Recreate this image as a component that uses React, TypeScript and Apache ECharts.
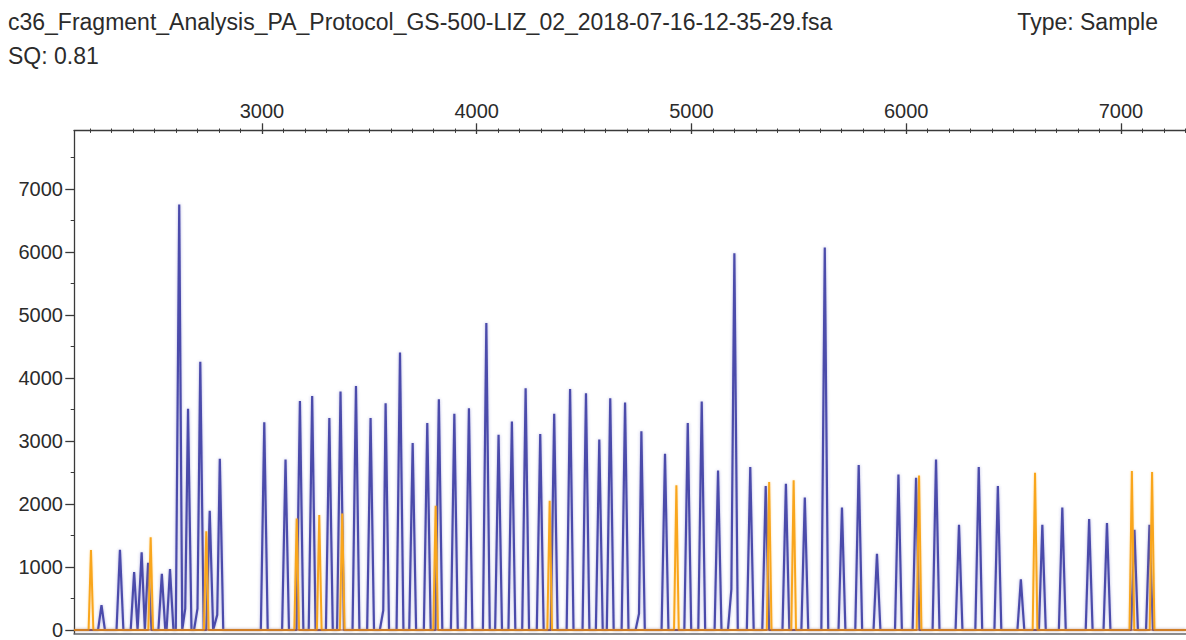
import React, { useEffect, useRef } from "react";
import * as echarts from "echarts";

// ---- texts ----
const fileTitle = "c36_Fragment_Analysis_PA_Protocol_GS-500-LIZ_02_2018-07-16-12-35-29.fsa";
const sqLabel = "SQ: 0.81";
const typeLabel = "Type: Sample";

// ---- axes ----
const xMin = 2125;
const xMax = 7303;
const yMin = -58;
const yMax = 7924;
const xMajorTicks = [3000, 4000, 5000, 6000, 7000];
const yMajorTicks = [0, 1000, 2000, 3000, 4000, 5000, 6000, 7000];
const yMinorTicks = [500, 1500, 2500, 3500, 4500, 5500, 6500, 7500];
const xMinorTicks: number[] = [];
for (let v = 2200; v <= 7300; v += 100) if (v % 1000 !== 0) xMinorTicks.push(v);

// ---- blue dye peaks (scan position, RFU) ----
const bluePeakX = [
  2253, 2339, 2405, 2440, 2470, 2534, 2572, 2615, 2643, 2656, 2700, 2713, 2757, 2792, 2804,
  3011, 3110, 3177, 3234, 3314, 3366, 3438, 3506, 3565, 3576, 3643, 3702, 3770, 3824, 3896,
  3964, 4045, 4102, 4164, 4228, 4296, 4361, 4435, 4509, 4571, 4622, 4691, 4756, 4767, 4877,
  4983, 5048, 5124, 5186, 5200, 5274, 5346, 5440, 5528, 5621, 5701, 5779, 5864, 5964, 6046,
  6139, 6246, 6338, 6427, 6534, 6634, 6727, 6852, 6935, 7063, 7133,
];
const bluePeakY = [
  394, 1271, 919, 1234, 1066, 893, 966, 6752, 340, 3510, 340, 4257, 1892, 240, 2716,
  3295, 2706, 3636, 3715, 3363, 3784, 3872, 3363, 310, 3600, 4403, 2969, 3284, 3662, 3431,
  3520, 4871, 3100, 3310, 3836, 3111, 3431, 3825, 3757, 3021, 3678, 3610, 260, 3153, 2795,
  3284, 3626, 2532, 646, 5980, 2586, 2286, 2322, 2102, 6070, 1944, 2617, 1208, 2469, 2417,
  2706, 1671, 2586, 2286, 804, 1671, 1944, 1760, 1697, 1592, 1671,
];

// ---- orange dye (size standard) peaks ----
const orangePeakX = [2204, 2482, 2741, 3162, 3267, 3374, 3809, 4340, 4930, 5362, 5476, 6060, 6600, 7051, 7145];
const orangePeakY = [1271, 1471, 1565, 1770, 1823, 1849, 1970, 2049, 2296, 2349, 2375, 2453, 2496, 2522, 2507];

// ---- red channel baseline ----
const redBaselineX = [xMin, xMax];
const redBaselineY = [0, 0];

// Turn a list of peak apexes into a line: each apex gets a foot on the baseline
// on each side; close neighbours share one foot, very close ones (shoulders) join directly.
function peakLine(xs: number[], ys: number[], hw: number): number[][] {
  const order = xs.map((_, i) => i).sort((a, b) => xs[a] - xs[b]);
  const pts: number[][] = [[xMin, 0]];
  for (let k = 0; k < order.length; k++) {
    const i = order[k];
    const x = xs[i];
    const prev = k > 0 ? xs[order[k - 1]] : -Infinity;
    const next = k < order.length - 1 ? xs[order[k + 1]] : Infinity;
    const gapL = x - prev;
    if (gapL >= 2 * hw) pts.push([x - hw, 0]);
    else if (gapL >= hw) pts.push([(x + prev) / 2, 0]);
    pts.push([x, ys[i]]);
    if (next - x >= 2 * hw) pts.push([x + hw, 0]);
  }
  pts.push([xMax, 0]);
  return pts;
}

const FONT = "'Liberation Sans', Arial, Helvetica, sans-serif";
const TEXT_COLOR = "#2b2b2b";
const AXIS_COLOR = "#3a3a3a";

export default function App() {
  const ref = useRef<HTMLDivElement>(null);
  useEffect(() => {
    if (!ref.current) return;
    const chart = echarts.init(ref.current, undefined, { renderer: "svg" });
    const xCommon = {
      type: "value" as const,
      min: xMin,
      max: xMax,
      gridIndex: 0,
      splitLine: { show: false },
    };
    const yCommon = {
      type: "value" as const,
      min: yMin,
      max: yMax,
      gridIndex: 0,
      splitLine: { show: false },
    };
    const headStyle = { fontFamily: FONT, fontSize: 23, color: TEXT_COLOR, fontWeight: "normal" as const };
    const tickStyle = { fontFamily: FONT, fontSize: 20, color: TEXT_COLOR };
    const plain = (v: number) => String(v);
    chart.setOption({
      animation: false,
      backgroundColor: "#ffffff",
      title: [
        { text: fileTitle, left: 8, top: 10, padding: 0, textStyle: headStyle },
        { text: sqLabel, left: 8, top: 44, padding: 0, textStyle: headStyle },
        { text: typeLabel, right: 28, top: 10, padding: 0, textStyle: headStyle },
      ],
      grid: { left: 74, right: 0, top: 130.7, bottom: 3, containLabel: false },
      xAxis: [
        {
          ...xCommon,
          position: "top",
          axisLine: { show: true, onZero: false, lineStyle: { color: AXIS_COLOR, width: 1.3 } },
          axisTick: { show: false },
          axisLabel: { customValues: xMajorTicks, margin: 10, formatter: plain, ...tickStyle },
        },
        {
          ...xCommon,
          position: "top",
          offset: -3.3,
          axisLine: { show: false, onZero: false },
          axisTick: { show: true, customValues: xMajorTicks, length: 10.7, lineStyle: { color: AXIS_COLOR, width: 1.3 } },
          axisLabel: { show: false },
        },
        {
          ...xCommon,
          position: "top",
          offset: -2.2,
          axisLine: { show: false, onZero: false },
          axisTick: { show: true, customValues: xMinorTicks, length: 4.4, lineStyle: { color: AXIS_COLOR, width: 1 } },
          axisLabel: { show: false },
        },
        {
          ...xCommon,
          position: "bottom",
          axisLine: { show: true, onZero: false, lineStyle: { color: "#666", width: 1.5 } },
          axisTick: { show: false },
          axisLabel: { show: false },
        },
      ],
      yAxis: [
        {
          ...yCommon,
          position: "left",
          axisLine: { show: true, onZero: false, lineStyle: { color: AXIS_COLOR, width: 1.3 } },
          axisTick: { show: true, customValues: yMajorTicks, length: 8.7, lineStyle: { color: AXIS_COLOR, width: 1.3 } },
          axisLabel: { customValues: yMajorTicks, margin: 11, formatter: plain, ...tickStyle },
        },
        {
          ...yCommon,
          position: "left",
          axisLine: { show: false, onZero: false },
          axisTick: { show: true, customValues: yMinorTicks, length: 3.3, lineStyle: { color: AXIS_COLOR, width: 1 } },
          axisLabel: { show: false },
        },
      ],
      series: [
        {
          name: "Blue",
          type: "line",
          xAxisIndex: 0,
          yAxisIndex: 0,
          data: peakLine(bluePeakX, bluePeakY, 16),
          showSymbol: false,
          clip: true,
          lineStyle: {
            color: "#4c4cab",
            width: 2.2,
            shadowColor: "rgba(90,90,190,0.45)",
            shadowBlur: 3,
          },
          z: 2,
        },
        {
          name: "Orange",
          type: "line",
          xAxisIndex: 0,
          yAxisIndex: 0,
          data: peakLine(orangePeakX, orangePeakY, 11),
          showSymbol: false,
          clip: true,
          lineStyle: {
            color: "#f9a61e",
            width: 2,
            shadowColor: "rgba(250,170,40,0.4)",
            shadowBlur: 2,
          },
          z: 3,
        },
        {
          name: "Red",
          type: "line",
          xAxisIndex: 0,
          yAxisIndex: 0,
          data: redBaselineX.map((x, i) => [x, redBaselineY[i]]),
          showSymbol: false,
          lineStyle: { color: "rgba(170,90,50,0.7)", width: 1.5 },
          z: 4,
        },
      ],
    });
    return () => chart.dispose();
  }, []);
  return (
    <div
      ref={ref}
      style={{ position: "absolute", left: 0, top: 0, width: 1186, height: 640, background: "#fff" }}
    />
  );
}
